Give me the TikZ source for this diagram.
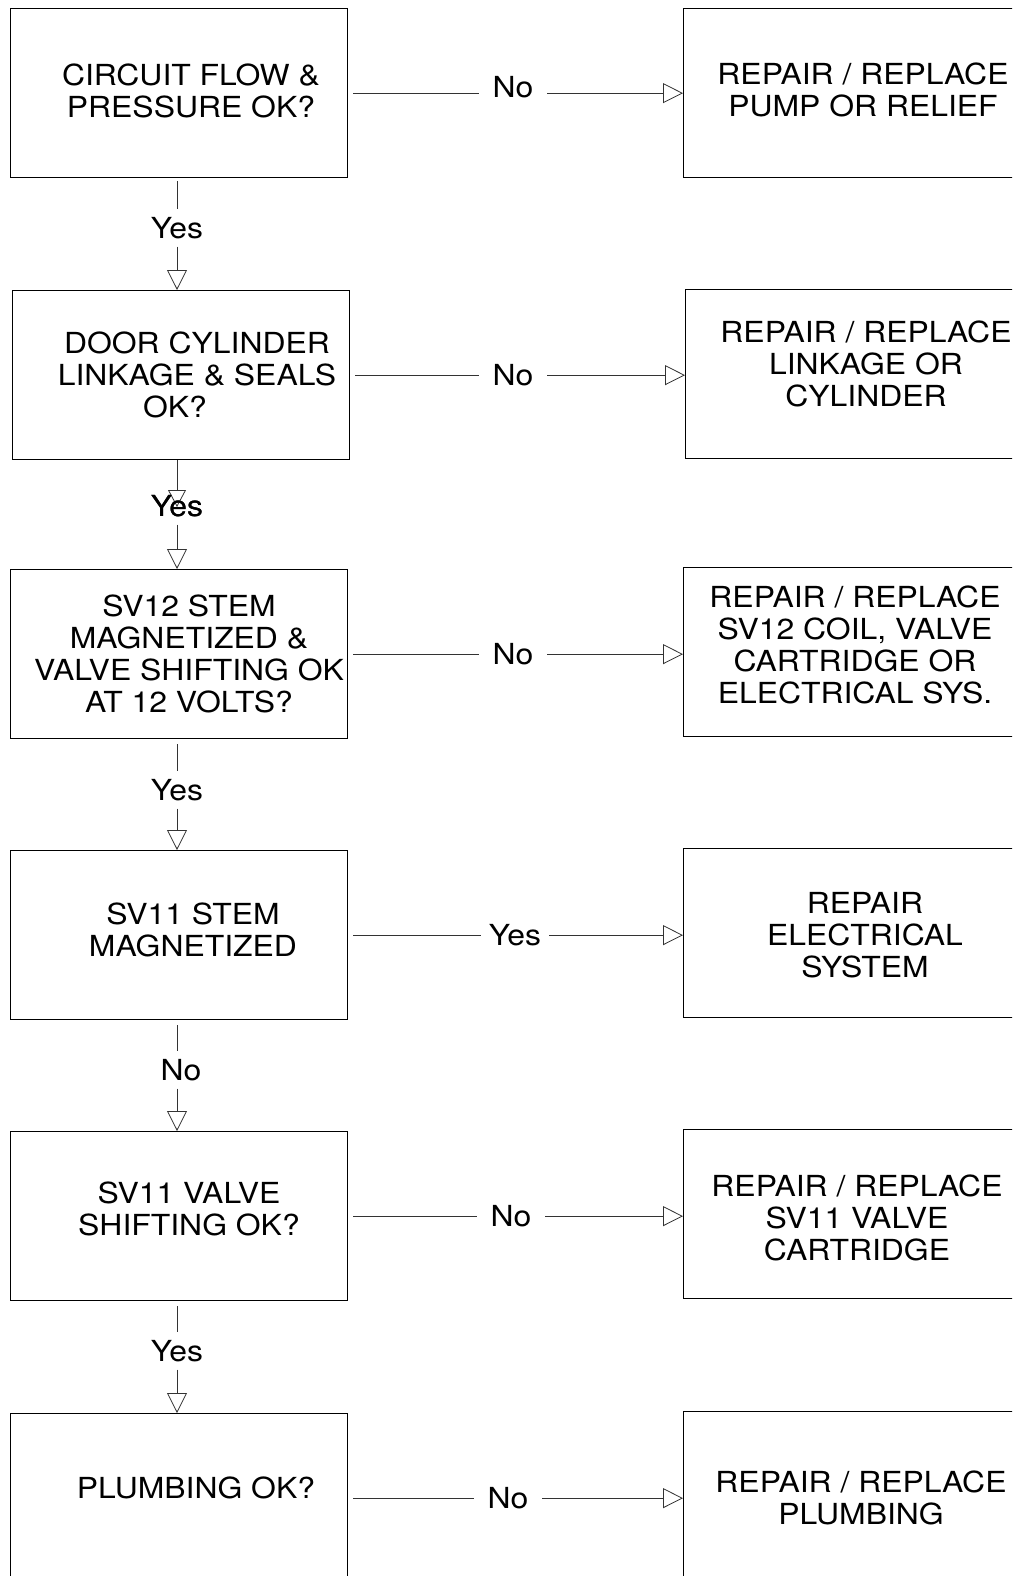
\documentclass[tikz,border=0pt]{standalone}
\usepackage{fontspec}
\setmainfont{TeX Gyre Heros}[FakeStretch=1.1]
\usetikzlibrary{arrows.meta}
\begin{document}
\begin{tikzpicture}[x=1pt,y=-1pt,
  box/.style={draw=black,line width=1.3pt,minimum width=337pt,minimum height=169pt,inner sep=0pt,anchor=north west},
  txt/.style={align=center,font=\fontsize{29}{32}\selectfont,inner sep=0pt},
  lab/.style={font=\fontsize{29}{32}\selectfont,text height=21pt,text depth=0pt,inner xsep=0pt,inner ysep=8pt},
  hlab/.style={lab,minimum width=68pt},
  conn/.style={line width=0.8pt,black!80},
  tip/.style={-{Triangle[open,length=20pt,width=20pt]}},
  smalltip/.style={-{Triangle[open,length=17pt,width=18pt]}}
]
\useasboundingbox (0,0) rectangle (1012,1576);
\clip (0,0) rectangle (1012,1576);

% question boxes
\node[box] (q1) at (10,8) {};
\node[box] (q2) at (12,290) {};
\node[box] (q3) at (10,569) {};
\node[box] (q4) at (10,850) {};
\node[box] (q5) at (10,1131) {};
\node[box] (q6) at (10,1413) {};
% action boxes
\node[box] (a1) at (683,8) {};
\node[box] (a2) at (685,289) {};
\node[box] (a3) at (683,567) {};
\node[box] (a4) at (683,848) {};
\node[box] (a5) at (683,1129) {};
\node[box] (a6) at (683,1411) {};

% texts
\node[txt] (tq1) at (191,91) {CIRCUIT FLOW \&\\PRESSURE OK?};
\node[txt] (tq2) at (197,375) {DOOR CYLINDER\\LINKAGE \& SEALS\\OK?\hspace*{44pt}};
\node[txt] (tq3) at (189,654) {SV12 STEM\\MAGNETIZED \&\\VALVE SHIFTING OK\\AT 12 VOLTS?};
\node[txt] (tq4) at (193,930) {SV11 STEM\\MAGNETIZED};
\node[txt] (tq5) at (189,1209) {SV11 VALVE\\SHIFTING OK?};
\node[txt] (tq6) at (196,1488) {PLUMBING OK?};

\node[txt] (ta1) at (863,90) {REPAIR / REPLACE\\PUMP OR RELIEF};
\node[txt] (ta2) at (866,364) {REPAIR / REPLACE\\LINKAGE OR\\CYLINDER};
\node[txt] (ta3) at (855,645) {REPAIR / REPLACE\\SV12 COIL, VALVE\\CARTRIDGE OR\\ELECTRICAL SYS.};
\node[txt] (ta4) at (865,935) {REPAIR\\ELECTRICAL\\SYSTEM};
\node[txt] (ta5) at (857,1218) {REPAIR / REPLACE\\SV11 VALVE\\CARTRIDGE};
\node[txt] (ta6) at (861,1498) {REPAIR / REPLACE\\PLUMBING};

% horizontal labels
\node[hlab,yshift=6pt] (h1) at (513,0 |- q1.east) {No};
\node[hlab] (h2) at (513,0 |- q2.east) {No};
\node[hlab] (h3) at (513,0 |- q3.east) {No};
\node[hlab] (h4) at (515,0 |- q4.east) {Yes};
\node[hlab] (h5) at (511,0 |- q5.east) {No};
\node[hlab] (h6) at (508,0 |- q6.east) {No};

\foreach \i in {1,...,6}{
  \draw[conn,shorten <=5pt] (q\i.east) -- (h\i.west |- q\i.east);
  \draw[conn,tip] (h\i.east |- q\i.east) -- (a\i.west |- q\i.east);
}

% vertical labels
\node[lab] (v1) at (177,228) {Yes};
\node[lab] (v2) at (177,506) {Yes};
\node[lab] (v3) at (177,790) {Yes};
\node[lab] (v4) at (181,1070) {No};
\node[lab] (v5) at (177,1351) {Yes};

\coordinate (c2) at (177,507);

\draw[conn,shorten <=3pt] (q1.south -| 177,0) -- (v1.north -| 177,0);
\draw[conn,tip] (v1.south -| 177,0) -- (q2.north -| 177,0);

\draw[conn,smalltip] (q2.south -| c2) -- (c2);
\draw[conn,tip] (v2.south -| 177,0) -- (q3.north -| 177,0);

\draw[conn,shorten <=5pt] (q3.south -| 177,0) -- (v3.north -| 177,0);
\draw[conn,tip] (v3.south -| 177,0) -- (q4.north -| 177,0);

\draw[conn,shorten <=5pt] (q4.south -| 177,0) -- (v4.north -| 177,0);
\draw[conn,tip] (v4.south -| 177,0) -- (q5.north -| 177,0);

\draw[conn,shorten <=5pt] (q5.south -| 177,0) -- (v5.north -| 177,0);
\draw[conn,tip] (v5.south -| 177,0) -- (q6.north -| 177,0);

% redraw the overlapping label on top of the small arrowhead
\node[lab] (v2b) at (v2) {Yes};
\end{tikzpicture}
\end{document}
